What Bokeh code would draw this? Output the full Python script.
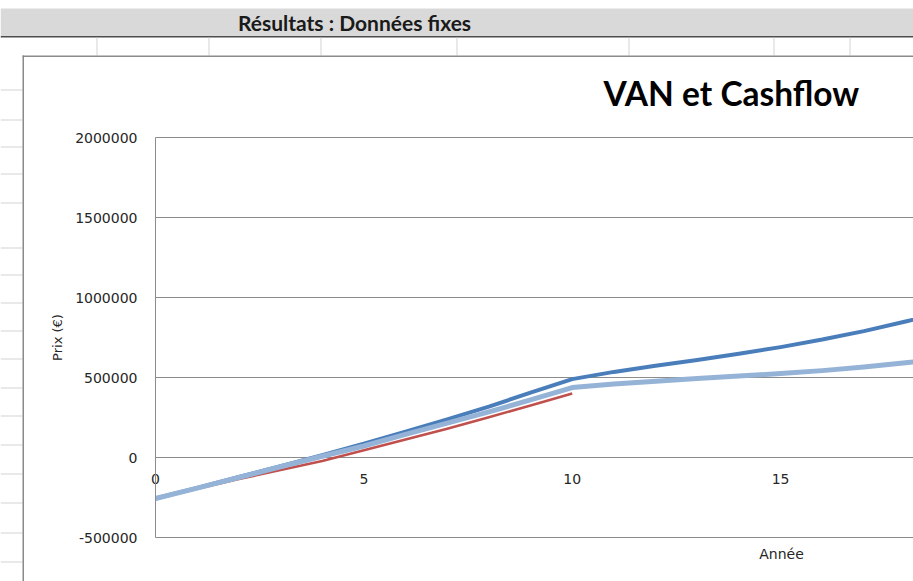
import math
from bokeh.plotting import figure
from bokeh.models import (Range1d, FixedTicker, NumeralTickFormatter,
                          LinearAxis, Grid)
from bokeh.core.properties import value
from bokeh.embed import file_html
from bokeh.resources import INLINE

# ---------------- data ----------------
annees = list(range(0, 20))
cashflow_cumule = [-256000, -190000, -122000, -55000, 15000, 87000, 162000,
                   238000, 318000, 405000, 490000, 535000, 573000, 610000,
                   648000, 690000, 737000, 790000, 850000, 912000]
cashflow_actualise = [-256000, -191000, -125000, -58000, 8000, 72000, 144000,
                      215000, 285000, 360000, 437000, 460000, 477000, 494000,
                      509000, 525000, 543000, 565000, 592000, 622000]
annees_van = list(range(0, 11))
van = [-256000, -195000, -135000, -78000, -22000, 45000, 112000, 180000,
       252000, 325000, 400000]

y_ticks = [-500000, 0, 500000, 1000000, 1500000, 2000000]
x_ticks = [0, 5, 10, 15]

titre = "VAN et Cashflow"
entete = "Résultats : Données fixes"
titre_x = "Année"
titre_y = "Prix (€)"

# ---------------- page geometry (pixels of the 913 x 581 page) ----------------
W, H = 913, 581
X0_PX, PX_PER_YEAR = 155, 758 / 18.19     # where year 0 sits, scale
Y0_PX, PX_PER_EUR = 457, 400 / 2500000    # where 0 EUR sits, scale

x_lo = -X0_PX / PX_PER_YEAR
x_hi = (W - X0_PX) / PX_PER_YEAR
y_hi = Y0_PX / PX_PER_EUR
y_lo = -(H - Y0_PX) / PX_PER_EUR

GRID = "#8c8c8c"
TXT = "#262626"
FONT = "DejaVu Sans"
CELL = "#d4d4d4"
BORDER = "#8a8a8a"

p = figure(width=W, height=H, output_backend="svg", toolbar_location=None,
           title=None, x_range=Range1d(x_lo, x_hi),
           y_range=Range1d(y_lo, y_hi), x_axis_type=None, y_axis_type=None,
           min_border=0)
p.extra_x_ranges = {"px": Range1d(0, W)}
p.extra_y_ranges = {"px": Range1d(H, 0)}
p.outline_line_color = None
p.background_fill_color = "white"
p.border_fill_color = "white"

# ---------------- spreadsheet chrome (page pixels) ----------------
PX = dict(x_range_name="px", y_range_name="px")
p.quad(left=[0], right=[W], top=[8], bottom=[35.5], fill_color="#D9D9D9",
       line_color=None, **PX)
p.quad(left=[0], right=[W], top=[35.5], bottom=[37], fill_color="#4d4d4d",
       line_color=None, **PX)
cols = [96, 208, 320, 456, 628, 773, 849]
p.quad(left=cols, right=[c + 1 for c in cols], top=[37] * len(cols),
       bottom=[55] * len(cols), fill_color=CELL, line_color=None, **PX)
rows = [89, 119, 146, 173, 202, 247, 274, 302, 330, 358, 387, 415, 444, 473,
        502, 532, 561]
p.quad(left=[0] * len(rows), right=[22] * len(rows), top=rows,
       bottom=[r + 1 for r in rows], fill_color=CELL, line_color=None, **PX)
p.quad(left=[22, 22], right=[W, 23.5], top=[55, 55], bottom=[56.5, H],
       fill_color=BORDER, line_color=None, **PX)

p.text(x=[354], y=[22], text=[entete], text_font=value("Lato"),
       text_font_style="bold", text_font_size="21px", text_color="#1a1a1a",
       text_align="center", text_baseline="middle", **PX)
p.text(x=[603], y=[92], text=[titre], text_font=value("Lato"),
       text_font_style="bold", text_font_size="33.5px", text_color="#000000",
       text_align="left", text_baseline="middle", **PX)
p.text(x=[781], y=[553], text=[titre_x], text_font=value(FONT),
       text_font_size="14px", text_color=TXT, text_align="center",
       text_baseline="middle", **PX)
p.text(x=[57], y=[337], text=[titre_y], text_font=value(FONT),
       text_font_size="13px", text_color=TXT, text_align="center",
       text_baseline="middle", angle=math.pi / 2, **PX)

# ---------------- grid and axes ----------------
grid = Grid(dimension=1, ticker=FixedTicker(ticks=y_ticks),
            grid_line_color=GRID, grid_line_width=1)
if "cross_bounds" in Grid.properties():
    grid.cross_bounds = (0, 40)
    p.add_layout(grid)
else:
    p.segment(x0=[0] * len(y_ticks), x1=[40] * len(y_ticks), y0=y_ticks,
              y1=y_ticks, line_color=GRID, line_width=1)

ya = LinearAxis(fixed_location=0, ticker=FixedTicker(ticks=y_ticks),
                formatter=NumeralTickFormatter(format="0"),
                bounds=(y_ticks[0], y_ticks[-1]))
ya.axis_line_color = GRID
ya.axis_line_width = 1
ya.major_tick_line_color = None
ya.minor_tick_line_color = None
ya.major_tick_out = 0
ya.major_tick_in = 0
ya.major_label_standoff = 18
ya.major_label_text_font = FONT
ya.major_label_text_font_size = "14px"
ya.major_label_text_color = TXT
p.add_layout(ya, "left")

xa = LinearAxis(fixed_location=0, ticker=FixedTicker(ticks=x_ticks))
xa.axis_line_color = None
xa.major_tick_line_color = None
xa.minor_tick_line_color = None
xa.major_tick_out = 0
xa.major_tick_in = 0
xa.major_label_standoff = 16
xa.major_label_text_font = FONT
xa.major_label_text_font_size = "14px"
xa.major_label_text_color = TXT
p.add_layout(xa, "below")

# ---------------- series ----------------
p.line(annees, cashflow_cumule, line_color="#4A7EBB", line_width=4,
       line_join="round")
p.line(annees_van, van, line_color="#C0504D", line_width=2.6,
       line_join="round")
p.line(annees, cashflow_actualise, line_color="#95B3D7", line_width=5,
       line_join="round")

open("out.html", "w").write(file_html(p, INLINE))
